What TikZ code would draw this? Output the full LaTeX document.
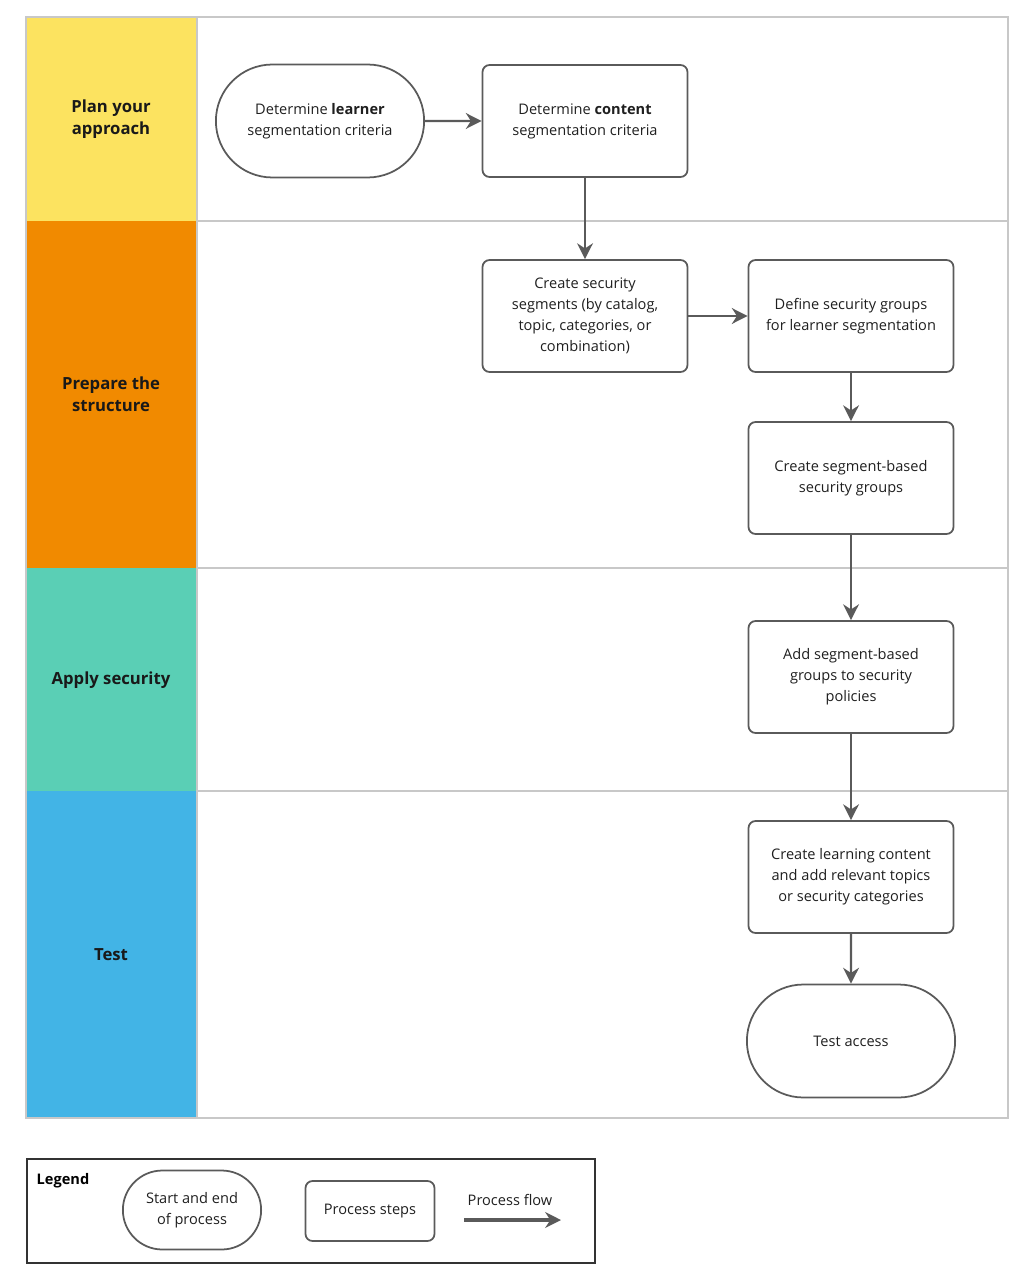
\documentclass[tikz,border=0pt]{standalone}
\usepackage{fontspec}
\setmainfont{Open Sans}
\usetikzlibrary{arrows.meta,shapes.misc}
\definecolor{laneyellow}{HTML}{FCE360}
\definecolor{laneorange}{HTML}{F18A00}
\definecolor{laneteal}{HTML}{5ACFB5}
\definecolor{laneblue}{HTML}{42B4E6}
\definecolor{linegray}{HTML}{5A5A5A}
\definecolor{lanegray}{HTML}{C8C8C8}
\begin{document}
\begin{tikzpicture}[
        x=0.02cm, y=-0.02cm,
        lane/.style={draw=lanegray, line width=0.6pt},
        lanetitle/.style={font=\fontsize{9.5}{12.5}\selectfont\bfseries, align=center, text=black!90},
        stepbox/.style={rectangle, rounded corners=4pt, draw=linegray, line width=1pt, minimum width=4.1cm, minimum height=2.24cm, align=center, font=\fontsize{8.3}{11.9}\selectfont, text=black!88},
        terminal/.style={rounded rectangle, draw=linegray, line width=1pt, minimum width=4.4cm, minimum height=2.26cm, align=center, font=\fontsize{8.3}{11.9}\selectfont, text=black!88},
        flow/.style={-{Stealth[length=9pt, width=9pt]}, draw=linegray, line width=1.3pt}
        ]
      \useasboundingbox (0,0) rectangle (1025,1280);
      % swimlanes
      \fill[laneyellow] (26,17) rectangle (197,221);
      \fill[laneorange] (26,221) rectangle (197,568);
      \fill[laneteal] (26,568) rectangle (197,791);
      \fill[laneblue] (26,791) rectangle (197,1118);
      \draw[lane] (26,17) rectangle (1008,1118);
      \draw[lane] (197,17) -- (197,1118);
      \draw[lane] (197,221) -- (1008,221);
      \draw[lane] (197,568) -- (1008,568);
      \draw[lane] (197,791) -- (1008,791);
      \node[lanetitle] (plan) at (111,119) {Plan your\\approach};
      \node[lanetitle] (prepare) at (111,394) {Prepare the\\structure};
      \node[lanetitle] (apply) at (111,680) {Apply security};
      \node[lanetitle] (test) at (111,955) {Test};
      % steps
      \node[terminal] (learner) at (320,121) {Determine \textbf{learner}\\segmentation criteria};
      \node[stepbox] (content) at (585,121) {Determine \textbf{content}\\segmentation criteria};
      \node[stepbox] (segments) at (585,316) {Create security\\segments (by catalog,\\topic, categories, or\\combination)};
      \node[stepbox] (define) at (851,316) {Define security groups\\for learner segmentation};
      \node[stepbox] (segroups) at (851,478) {Create segment-based\\security groups};
      \node[stepbox] (addseg) at (851,677) {Add segment-based\\groups to security\\policies};
      \node[stepbox] (learning) at (851,877) {Create learning content\\and add relevant topics\\or security categories};
      \node[terminal] (access) at (851,1041) {Test access};
      \draw[flow] (learner) -- (content);
      \draw[flow] (content) -- (segments);
      \draw[flow] (segments) -- (define);
      \draw[flow] (define) -- (segroups);
      \draw[flow] (segroups) -- (addseg);
      \draw[flow] (addseg) -- (learning);
      \draw[flow] (learning) -- (access);
      % legend
      \draw[draw=black!80, line width=1.1pt] (27,1159) rectangle (595,1263);
      \node[font=\fontsize{8.3}{10}\selectfont\bfseries] (legend) at (63,1181) {Legend};
      \node[terminal, minimum width=3.0cm, minimum height=1.58cm] (legstart) at (192,1210) {Start and end\\of process};
      \node[stepbox, minimum width=2.58cm, minimum height=1.2cm] (legstep) at (370,1211) {Process steps};
      \node[font=\fontsize{8.3}{10}\selectfont, text=black!88] (legflow) at (510,1200) {Process flow};
      \coordinate (flowa) at (464,1220);
      \coordinate (flowb) at (561,1220);
      \draw[flow, line width=2pt] (flowa) -- (flowb);
    \end{tikzpicture}
\end{document}
